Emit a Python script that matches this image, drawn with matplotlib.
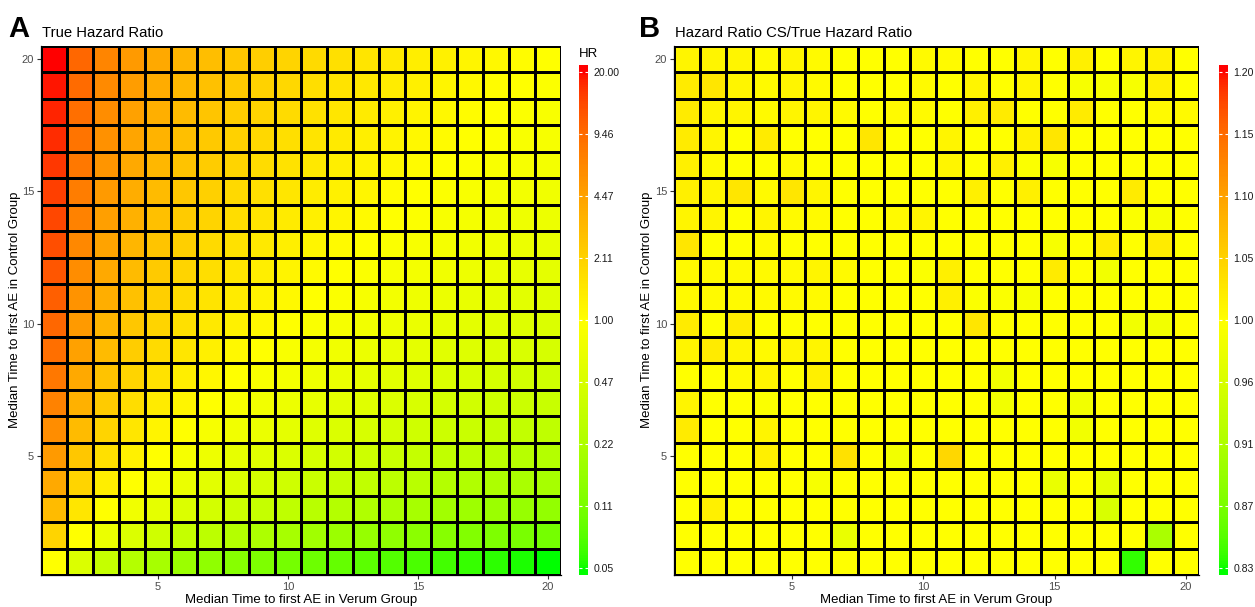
import numpy as np
import matplotlib
matplotlib.use("Agg")
import matplotlib.pyplot as plt
from matplotlib.colors import ListedColormap

plt.rcParams['font.family'] = ['Liberation Sans', 'DejaVu Sans']

# medians of time to first AE (grid axes)
verum_median = list(range(1, 21))
control_median = list(range(1, 21))

# colourbar tick labels
hr_ticks = ["0.05", "0.11", "0.22", "0.47", "1.00", "2.11", "4.47", "9.46", "20.00"]
ratio_ticks = ["0.83", "0.87", "0.91", "0.96", "1.00", "1.05", "1.10", "1.15", "1.20"]
hr_limit = 20.0
ratio_limit = 1.2

# HR CS / true HR, rows = control median 20 (top) .. 1 (bottom), cols = verum median 1..20
ratio_rows = [
    [1.01, 1.01, 1.01, 1.005, 1.01, 1.005, 1.0, 1.0, 1.0, 1.005, 1.005, 1.0, 1.0, 1.01, 1.0, 1.015, 1.0, 1.01, 1.015, 1.0],
    [1.02, 1.025, 1.01, 1.005, 1.01, 1.005, 1.0, 1.0, 1.0, 1.005, 1.0, 1.01, 1.0, 1.01, 1.0, 0.99, 0.99, 0.99, 1.015, 1.0],
    [1.02, 1.01, 1.01, 1.005, 1.01, 1.01, 1.005, 1.0, 1.005, 1.005, 1.0, 1.015, 1.02, 1.0, 1.0, 1.02, 1.0, 1.0, 1.005, 1.005],
    [1.02, 1.01, 1.0, 1.02, 1.0, 1.0, 1.0, 1.025, 1.0, 1.0, 1.01, 1.0, 1.0, 1.015, 1.025, 1.0, 1.0, 1.0, 1.0, 1.0],
    [1.015, 1.005, 1.0, 1.0, 1.005, 1.0, 1.0, 1.0, 1.0, 1.0, 1.01, 1.0, 1.015, 0.995, 0.99, 1.0, 1.0, 1.0, 1.0, 1.0],
    [1.015, 1.01, 1.025, 1.005, 1.025, 1.01, 1.0, 1.0, 1.0, 1.0, 1.0, 1.015, 1.0, 1.015, 1.0, 1.0, 1.0, 1.02, 1.0, 1.0],
    [1.01, 1.01, 1.0, 1.01, 1.005, 1.005, 1.0, 1.0, 1.005, 1.01, 1.0, 1.0, 1.0, 1.0, 1.0, 1.0, 1.0, 0.995, 0.99, 1.0],
    [1.025, 1.0, 1.0, 1.005, 1.0, 1.0, 1.0, 1.0, 1.0, 1.0, 1.0, 1.0, 1.0, 1.0, 0.99, 1.0, 1.02, 1.0, 1.02, 1.0],
    [1.005, 1.005, 1.005, 1.005, 1.005, 1.01, 1.005, 1.0, 1.0, 0.995, 1.015, 1.0, 1.0, 1.0, 1.02, 1.0, 0.985, 1.0, 1.0, 1.0],
    [1.005, 1.005, 1.005, 1.005, 1.005, 1.005, 1.0, 1.0, 1.0, 1.0, 1.015, 0.995, 0.995, 0.99, 1.0, 1.0, 1.0, 1.0, 1.0, 1.0],
    [1.02, 1.0, 1.02, 1.0, 1.0, 1.0, 1.0, 1.0, 1.0, 1.0, 1.0, 1.025, 1.0, 1.0, 1.0, 1.0, 1.0, 0.985, 0.985, 1.0],
    [1.01, 1.02, 1.01, 1.005, 1.01, 1.01, 1.0, 1.0, 1.0, 1.0, 1.0, 1.0, 1.0, 1.0, 1.0, 1.0, 1.0, 1.0, 1.0, 1.0],
    [1.0, 1.0, 1.005, 1.01, 1.0, 1.015, 1.0, 1.0, 1.0, 1.0, 1.0, 1.0, 0.985, 1.0, 1.0, 1.0, 1.0, 1.0, 1.0, 1.0],
    [1.01, 1.0, 1.0, 0.995, 1.0, 1.0, 1.0, 1.0, 1.0, 1.0, 1.0, 1.0, 0.985, 1.0, 1.0, 0.985, 1.0, 1.0, 1.0, 1.0],
    [1.02, 1.0, 1.0, 1.01, 1.0, 1.0, 1.0, 1.0, 1.0, 1.0, 1.0, 1.0, 1.0, 1.0, 1.0, 0.985, 1.0, 1.0, 1.0, 1.0],
    [1.0, 1.0, 1.0, 1.015, 1.0, 1.0, 1.03, 1.0, 0.985, 1.0, 1.04, 1.0, 1.0, 1.0, 1.0, 1.0, 1.0, 1.0, 1.0, 1.0],
    [1.0, 1.0, 1.0, 1.0, 1.0, 0.99, 1.0, 1.0, 1.0, 1.0, 1.0, 1.0, 1.0, 1.0, 0.975, 1.0, 0.97, 1.0, 1.0, 1.0],
    [1.0, 1.015, 1.0, 1.0, 1.0, 1.0, 1.0, 1.0, 1.0, 1.0, 1.0, 1.0, 1.0, 1.0, 1.0, 1.0, 0.955, 1.0, 1.0, 1.0],
    [1.0, 1.0, 1.0, 1.0, 1.0, 1.0, 0.975, 1.0, 1.0, 1.0, 1.0, 1.0, 1.0, 1.0, 1.0, 1.0, 1.0, 1.0, 0.91, 1.0],
    [1.0, 1.0, 1.0, 1.0, 1.0, 1.0, 1.0, 1.0, 1.0, 1.0, 1.0, 1.0, 1.0, 1.0, 1.0, 1.0, 1.0, 0.84, 1.0, 1.0],
]


# ---- green-yellow-red diverging palette, interpolated in CIELAB like ggplot ----
WHITE = np.array([0.95047, 1.0, 1.08883])
M = np.array([[0.4124, 0.3576, 0.1805], [0.2126, 0.7152, 0.0722], [0.0193, 0.1192, 0.9505]])


def to_lab(rgb):
    rgb = np.asarray(rgb, float)
    lin = np.where(rgb <= 0.04045, rgb / 12.92, ((rgb + 0.055) / 1.055) ** 2.4)
    xyz = lin @ M.T / WHITE
    f = np.where(xyz > 0.008856, np.cbrt(xyz), 7.787 * xyz + 16 / 116)
    return np.array([116 * f[1] - 16, 500 * (f[0] - f[1]), 200 * (f[1] - f[2])])


def from_lab(lab):
    L, a, b = lab
    fy = (L + 16) / 116
    fx = fy + a / 500
    fz = fy - b / 200
    f = np.array([fx, fy, fz])
    xyz = np.where(f ** 3 > 0.008856, f ** 3, (f - 16 / 116) / 7.787) * WHITE
    lin = np.linalg.solve(M, xyz)
    lin = np.clip(lin, 0, 1)
    rgb = np.where(lin <= 0.0031308, 12.92 * lin, 1.055 * lin ** (1 / 2.4) - 0.055)
    return np.clip(rgb, 0, 1)


green, yellow, red = to_lab([0, 1, 0]), to_lab([1, 1, 0]), to_lab([1, 0, 0])
cols = []
for s in np.linspace(0, 1, 512):
    if s < 0.5:
        lab = green + (yellow - green) * (s / 0.5)
    else:
        lab = yellow + (red - yellow) * ((s - 0.5) / 0.5)
    cols.append(from_lab(lab))
cmap = ListedColormap(cols)

W, H = 1255, 607
fig = plt.figure(figsize=(W / 100, H / 100), dpi=100)


def px(l, t, r, b):
    return [l / W, 1 - b / H, (r - l) / W, (b - t) / H]


def heat(ax, values, limit):
    L = np.log(limit)
    xe = np.arange(0.5, len(verum_median) + 1)
    ye = np.arange(0.5, len(control_median) + 1)
    ax.pcolormesh(xe, ye, np.log(values), cmap=cmap, vmin=-L, vmax=L,
                  edgecolors='black', linewidth=0.85)
    ax.set_xlim(0.5, 20.5)
    ax.set_ylim(0.5, 20.5)
    ax.set_xticks([5, 10, 15, 20])
    ax.set_yticks([5, 10, 15, 20])
    for s in ['top', 'right']:
        ax.spines[s].set_visible(False)
    for s in ['left', 'bottom']:
        ax.spines[s].set_color('black')
        ax.spines[s].set_linewidth(0.9)
    ax.tick_params(length=3, width=0.8, color='#333333', labelsize=8, labelcolor='#4D4D4D', pad=2)


def colorbar(cax, limit, labels):
    L = np.log(limit)
    pad = 2 * L * 7 / 496
    edges = np.linspace(-L - pad, L + pad, 301)
    cax.pcolormesh([0, 1], edges, ((edges[:-1] + edges[1:]) / 2)[:, None],
                   cmap=cmap, vmin=-L, vmax=L)
    cax.set_xlim(0, 1)
    cax.set_ylim(-L - pad, L + pad)
    cax.set_xticks([])
    cax.set_yticks(np.linspace(-L, L, len(labels)))
    cax.set_yticklabels(labels)
    for s in cax.spines.values():
        s.set_visible(False)
    cax.tick_params(axis='y', direction='in', length=2, width=0.8, color='white',
                    left=True, right=True, labelleft=False, labelright=True,
                    labelsize=7.6, labelcolor='#1A1A1A', pad=4)


# ---- panel A ----
axA = fig.add_axes(px(41, 46, 561, 575))
hr = np.array(control_median, float)[:, None] / np.array(verum_median, float)[None, :]
heat(axA, hr, hr_limit)
caxA = fig.add_axes(px(579, 65, 588, 575))
colorbar(caxA, hr_limit, hr_ticks)

# ---- panel B ----
axB = fig.add_axes(px(674, 46, 1199, 575))
heat(axB, np.array(ratio_rows)[::-1], ratio_limit)
caxB = fig.add_axes(px(1219, 65, 1228, 575))
colorbar(caxB, ratio_limit, ratio_ticks)

# ---- texts ----
fig.text(8 / W, 1 - 37 / H, 'A', fontsize=21, fontweight='bold', va='baseline')
fig.text(42 / W, 1 - 37 / H, 'True Hazard Ratio', fontsize=10.7, va='baseline')
fig.text(639 / W, 1 - 37 / H, 'B', fontsize=21, fontweight='bold', va='baseline')
fig.text(675 / W, 1 - 37 / H, 'Hazard Ratio CS/True Hazard Ratio', fontsize=10.7, va='baseline')
fig.text(579 / W, 1 - 57 / H, 'HR', fontsize=9.5, va='baseline')

xlab = 'Median Time to first AE in Verum Group'
ylab = 'Median Time to first AE in Control Group'
fig.text(301 / W, 1 - 600 / H, xlab, fontsize=9.5, ha='center', va='center')
fig.text(936 / W, 1 - 600 / H, xlab, fontsize=9.5, ha='center', va='center')
fig.text(15 / W, 1 - 310 / H, ylab, fontsize=9.5, ha='center', va='center', rotation=90)
fig.text(647 / W, 1 - 310 / H, ylab, fontsize=9.5, ha='center', va='center', rotation=90)

fig.savefig('out.png', dpi=100)
